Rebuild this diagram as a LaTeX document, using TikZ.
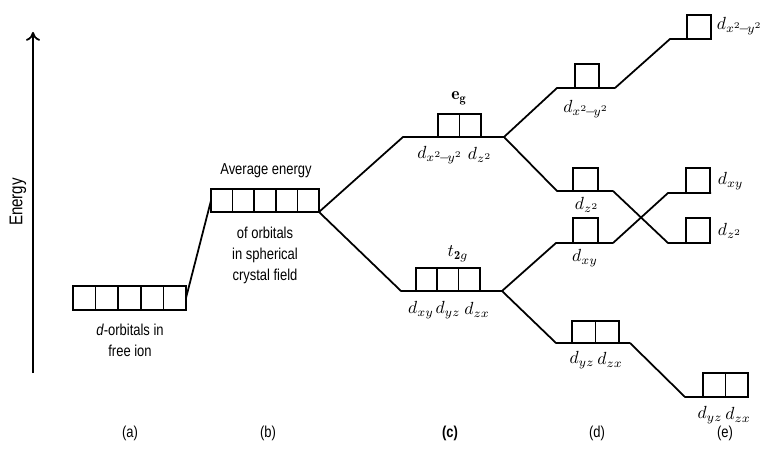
\documentclass[tikz,border=0pt]{standalone}
\usepackage{fontspec}
\newfontfamily\narrow{Liberation Sans}[FakeStretch=0.82]
\usetikzlibrary{arrows.meta}
\newcommand{\dxy}{d_{x^2\!-\!y^2}}
\begin{document}
\begin{tikzpicture}[x=0.02cm,y=-0.02cm, line width=1pt,
  obox/.style={draw, line width=1pt, minimum width=0.44cm, minimum height=0.46cm, inner sep=0pt, outer sep=0pt, anchor=south west},
  sf/.style={font=\narrow\fontsize{9}{12}\selectfont, align=center, inner sep=0pt},
  ml/.style={font=\fontsize{10}{12}\selectfont, inner sep=0pt},
  lvl/.style={line width=1pt, line join=miter}]
\useasboundingbox (0,0) rectangle (761,449);

% energy axis
\coordinate (ax0) at (33,373);
\coordinate (ax1) at (33,32);
\draw[-{To[length=5pt,width=8pt]}] (ax0) -- (ax1);
\node[sf, font=\narrow\fontsize{10.5}{12}\selectfont, rotate=90] (energy) at (18,202) {Energy};

% (a) free ion
\foreach \i in {0,...,4}
  \node[obox, minimum width=0.452cm, minimum height=0.48cm] (a\i) at (73+22.6*\i,310) {};
\node[sf] (alab) at (130,340) {\textit{d}-orbitals in\\free ion};

% (b) spherical field
\foreach \i in {0,...,4}
  \node[obox, minimum width=0.432cm] (b\i) at (211+21.6*\i,212) {};
\node[sf] (bavg) at (266,171) {Average energy};
\node[sf] (blab) at (265,255) {of orbitals\\in spherical\\crystal field};
\draw[lvl] (a4.east) -- (b0.west);

% (c) octahedral
\coordinate (c1l) at (403,137); \coordinate (c1r) at (504,137);
\coordinate (c2l) at (401,291); \coordinate (c2r) at (502,291);
\foreach \i in {0,1}
  \node[obox, minimum width=0.43cm] (eg\i) at (438+21.5*\i,137) {};
\foreach \i in {0,1,2}
  \node[obox, minimum width=0.426cm] (tg\i) at (416+21.3*\i,291) {};
\draw[lvl] (b4.south east) -- (c1l) -- (c1r);
\draw[lvl] (b4.south east) -- (c2l) -- (c2r);
\node[ml] (eglab) at (459,98) {$\mathbf{e}_{\mathbf{g}}$};
\node[ml] (tglab) at (458,254) {$t_{\mathbf{2}g}$};
\node[ml] (c1a) at (440,155) {$\dxy$};
\node[ml] (c1b) at (480,155) {$d_{z^2}$};
\node[ml] (c2a) at (421,310) {$d_{xy}$};
\node[ml] (c2b) at (448,310) {$d_{yz}$};
\node[ml] (c2c) at (477,310) {$d_{zx}$};

% (d)
\coordinate (d1l) at (557,88);  \coordinate (d1r) at (615,88);
\coordinate (d2l) at (557,191); \coordinate (d2r) at (613,191);
\coordinate (d3l) at (556,243); \coordinate (d3r) at (613,243);
\coordinate (d4l) at (556,343); \coordinate (d4r) at (630,343);
\node[obox, minimum width=0.48cm, minimum height=0.48cm] (dx) at (575,88) {};
\node[obox, minimum width=0.5cm, minimum height=0.46cm] (dz) at (573,191) {};
\node[obox, minimum width=0.5cm, minimum height=0.5cm] (dxy) at (573,243) {};
\foreach \i in {0,1}
  \node[obox, minimum width=0.47cm, minimum height=0.44cm] (dd\i) at (572+23.5*\i,343) {};
\draw[lvl] (c1r) -- (d1l) -- (d1r);
\draw[lvl] (c1r) -- (d2l) -- (d2r);
\draw[lvl] (c2r) -- (d3l) -- (d3r);
\draw[lvl] (c2r) -- (d4l) -- (d4r);
\node[ml] (d1lab) at (586,109) {$\dxy$};
\node[ml] (d2lab) at (587,205) {$d_{z^2}$};
\node[ml] (d3lab) at (585,258) {$d_{xy}$};
\node[ml] (d4a) at (582,360) {$d_{yz}$};
\node[ml] (d4b) at (610,360) {$d_{zx}$};

% (e)
\coordinate (e1l) at (670,39);  \coordinate (e1r) at (711,39);
\coordinate (e2l) at (668,193); \coordinate (e2r) at (711,193);
\coordinate (e3l) at (668,243); \coordinate (e3r) at (710,243);
\coordinate (e4l) at (685,397); \coordinate (e4r) at (748,397);
\node[obox, minimum width=0.48cm, minimum height=0.48cm] (ex) at (687,39) {};
\node[obox, minimum width=0.48cm, minimum height=0.5cm] (exy) at (686,193) {};
\node[obox, minimum width=0.48cm, minimum height=0.5cm] (ez) at (686,243) {};
\foreach \i in {0,1}
  \node[obox, minimum width=0.45cm, minimum height=0.48cm] (ee\i) at (703+22.5*\i,397) {};
\draw[lvl] (d1r) -- (e1l) -- (e1r);
\draw[lvl] (d3r) -- (e2l) -- (e2r);
\draw[lvl] (d2r) -- (e3l) -- (e3r);
\draw[lvl] (d4r) -- (e4l) -- (e4r);
\node[ml, anchor=west] (e1lab) at (716,26) {$\dxy$};
\node[ml, anchor=west] (e2lab) at (717,181) {$d_{xy}$};
\node[ml, anchor=west] (e3lab) at (717,231) {$d_{z^2}$};
\node[ml] (e4a) at (710,415) {$d_{yz}$};
\node[ml] (e4b) at (738,415) {$d_{zx}$};

% column labels
\node[sf] (la) at (130,433) {(a)};
\node[sf] (lb) at (268,433) {(b)};
\node[sf] (lc) at (450,433) {\bfseries (c)};
\node[sf] (ld) at (597,433) {(d)};
\node[sf] (le) at (725,433) {(e)};
\end{tikzpicture}
\end{document}
